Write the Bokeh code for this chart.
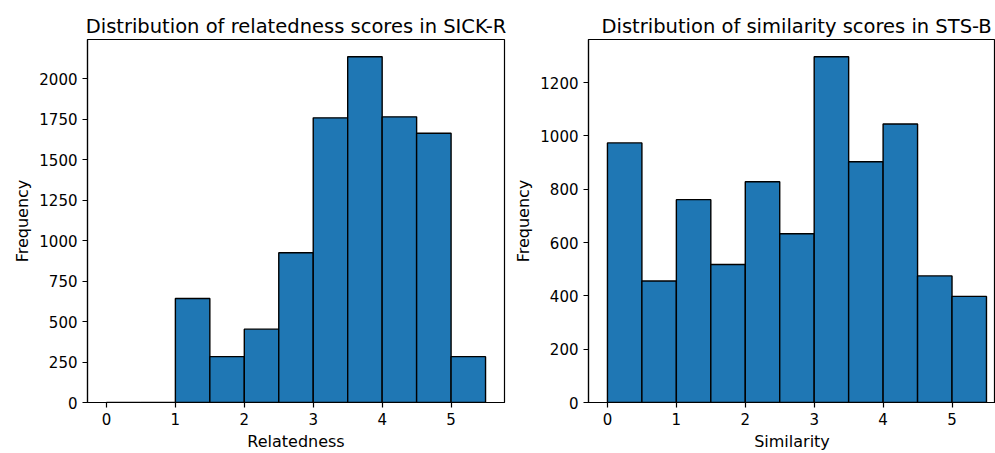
from bokeh.plotting import figure
from bokeh.layouts import row
from bokeh.models import Range1d, FixedTicker, ColumnDataSource
from bokeh.embed import file_html
from bokeh.resources import INLINE

bin_edges = [0.0, 0.5, 1.0, 1.5, 2.0, 2.5, 3.0, 3.5, 4.0, 4.5, 5.0, 5.5]
sick_counts = [0, 0, 642, 283, 453, 925, 1758, 2135, 1764, 1663, 283]
sts_counts = [974, 456, 761, 518, 828, 633, 1297, 903, 1045, 475, 398]

sick_yticks = [0, 250, 500, 750, 1000, 1250, 1500, 1750, 2000]
sts_yticks = [0, 200, 400, 600, 800, 1000, 1200]
xticks = [0, 1, 2, 3, 4, 5]

FONT = "DejaVu Sans"
BAR = "#1f77b4"


def make(title, xlabel, counts, yticks, width, left_border, right_border, x_end,
         title_align, title_offset):
    lo = bin_edges[0]
    hi = bin_edges[-1]
    pad = (hi - lo) * 0.05
    ymax = max(counts) * 1.05
    p = figure(width=width, height=453, output_backend="svg", toolbar_location=None,
               x_range=Range1d(lo - pad, x_end if x_end is not None else hi + pad),
               y_range=Range1d(0, ymax),
               min_border_left=left_border, min_border_right=right_border,
               min_border_top=39, min_border_bottom=49)
    src = ColumnDataSource(dict(left=bin_edges[:-1], right=bin_edges[1:],
                                top=counts, bottom=[0] * len(counts)))
    p.quad(left="left", right="right", top="top", bottom="bottom", source=src,
           fill_color=BAR, line_color="black", line_width=1.4)
    p.title.text = title
    p.title.align = title_align
    p.title.offset = title_offset
    p.title.text_font = FONT
    p.title.text_font_size = "19.5px"
    p.title.text_font_style = "normal"
    p.title.text_color = "black"
    p.title.standoff = 3
    p.xgrid.visible = False
    p.ygrid.visible = False
    p.outline_line_color = "black"
    p.outline_line_alpha = 1
    p.outline_line_width = 1.2
    p.xaxis.ticker = FixedTicker(ticks=xticks)
    p.yaxis.ticker = FixedTicker(ticks=yticks)
    for ax in (p.xaxis[0], p.yaxis[0]):
        ax.major_label_text_font = FONT
        ax.major_label_text_font_size = "15px"
        ax.major_label_text_color = "black"
        ax.axis_label_text_font = FONT
        ax.axis_label_text_font_size = "16px"
        ax.axis_label_text_font_style = "normal"
        ax.axis_label_text_color = "black"
        ax.axis_line_color = "black"
        ax.axis_line_width = 1.2
        ax.major_tick_line_color = "black"
        ax.major_tick_line_width = 1.2
        ax.major_tick_out = 5
        ax.major_tick_in = 0
        ax.minor_tick_line_color = None
        ax.major_label_standoff = 5
        ax.axis_label_standoff = 4
    p.xaxis.axis_label = xlabel
    p.yaxis.axis_label = "Frequency"
    return p


p1 = make("Distribution of relatedness scores in SICK-R", "Relatedness",
          sick_counts, sick_yticks, 508, 87, 4, None, "center", 0)
p2 = make("Distribution of similarity scores in STS-B", "Similarity",
          sts_counts, sts_yticks, 487, 80, 0, 5.631, "left", 13)

p = row(p1, p2)
open("out.html", "w").write(file_html(p, INLINE))
